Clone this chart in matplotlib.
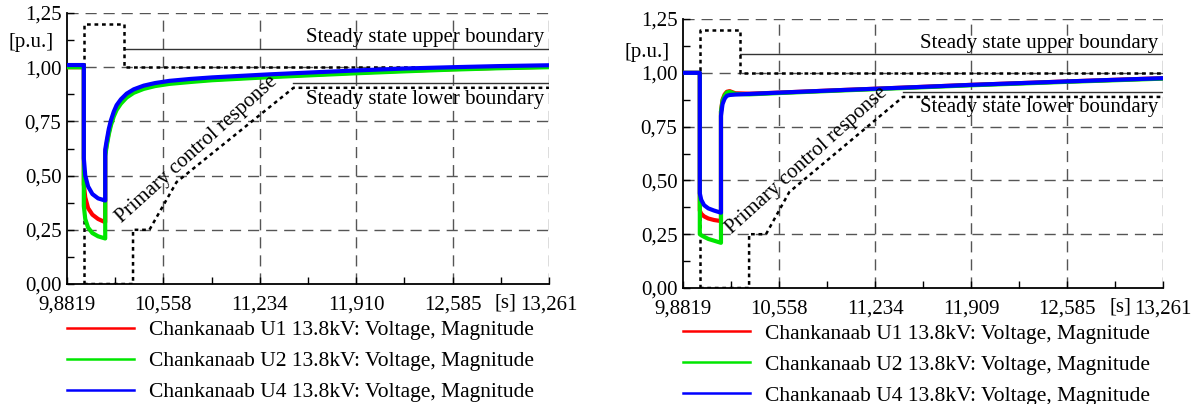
import numpy as np
import matplotlib
matplotlib.use("Agg")
import matplotlib.pyplot as plt
from matplotlib.lines import Line2D
from matplotlib.ticker import FixedLocator

plt.rcParams['font.family'] = ['Liberation Serif', 'DejaVu Serif']
plt.rcParams['font.size'] = 15

# x axis
X_MIN, X_MAX = 9.8819, 13.261
x_ticks = [9.8819, 10.558, 11.234, 11.910, 12.585, 13.261]
x_labels_l = ["9,8819", "10,558", "11,234", "11,910", "12,585", "13,261"]
x_labels_r = ["9,8819", "10,558", "11,234", "11,909", "12,585", "13,261"]
y_ticks = [0.0, 0.25, 0.50, 0.75, 1.00, 1.25]
y_labels = ["0,00", "0,25", "0,50", "0,75", "1,00", "1,25"]

names = ["Chankanaab U1 13.8kV: Voltage, Magnitude",
         "Chankanaab U2 13.8kV: Voltage, Magnitude",
         "Chankanaab U4 13.8kV: Voltage, Magnitude"]
colors = ["#ff0000", "#00e600", "#0000ff"]

# left case
t_l = [9.8819, 10.0, 10.0, 10.01, 10.03, 10.06, 10.10, 10.15, 10.15, 10.16, 10.175, 10.19,
       10.21, 10.23, 10.26, 10.30, 10.35, 10.42, 10.50, 10.60, 10.75, 10.90, 11.10, 11.30,
       11.60, 11.91, 12.25, 12.585, 12.90, 13.261]
u1_l = [1.0, 1.0, 0.46, 0.40, 0.35, 0.32, 0.30, 0.285, 0.60, 0.645, 0.70, 0.742,
        0.783, 0.813, 0.841, 0.868, 0.888, 0.905, 0.917, 0.927, 0.936, 0.943, 0.95, 0.957,
        0.966, 0.975, 0.984, 0.991, 0.997, 1.002]
u2_l = [1.0, 1.0, 0.36, 0.30, 0.26, 0.235, 0.22, 0.21, 0.59, 0.635, 0.69, 0.732,
        0.773, 0.803, 0.832, 0.86, 0.882, 0.90, 0.913, 0.923, 0.932, 0.94, 0.947, 0.954,
        0.963, 0.972, 0.981, 0.989, 0.995, 1.0]
u4_l = [1.01, 1.01, 0.58, 0.50, 0.45, 0.415, 0.395, 0.385, 0.62, 0.66, 0.715, 0.755,
        0.795, 0.825, 0.852, 0.878, 0.898, 0.915, 0.927, 0.937, 0.946, 0.953, 0.96, 0.967,
        0.976, 0.985, 0.994, 1.0, 1.005, 1.009]

up_dot_t_l = [10.0, 10.0, 10.28, 10.28, 13.261]
up_dot_v_l = [0.0, 1.2, 1.2, 1.0, 1.0]
lo_dot_t_l = [10.0, 10.345, 10.345, 10.46, 10.65, 11.47, 13.261]
lo_dot_v_l = [0.0, 0.0, 0.25, 0.25, 0.47, 0.905, 0.905]
up_sol_t_l = [10.28, 13.261]
up_sol_v_l = [1.083, 1.083]
lo_sol_t_l = [11.47, 13.261]
lo_sol_v_l = [0.926, 0.926]

# right case
t_r = [9.8819, 10.0, 10.0, 10.01, 10.03, 10.06, 10.10, 10.149, 10.149, 10.16, 10.175, 10.19,
       10.21, 10.25, 10.35, 10.558, 11.0, 11.234, 11.5, 11.909, 12.25, 12.585, 12.9, 13.261]
u1_r = [1.0, 1.0, 0.36, 0.345, 0.333, 0.323, 0.316, 0.311, 0.82, 0.875, 0.90, 0.912,
        0.915, 0.905, 0.903, 0.908, 0.92, 0.926, 0.933, 0.944, 0.952, 0.96, 0.967, 0.975]
u2_r = [1.0, 1.0, 0.25, 0.245, 0.238, 0.228, 0.22, 0.21, 0.82, 0.87, 0.895, 0.908,
        0.912, 0.902, 0.90, 0.906, 0.918, 0.924, 0.931, 0.942, 0.95, 0.958, 0.965, 0.973]
u4_r = [1.0, 1.0, 0.44, 0.41, 0.385, 0.37, 0.36, 0.35, 0.80, 0.855, 0.88, 0.893,
        0.897, 0.899, 0.902, 0.908, 0.92, 0.926, 0.933, 0.944, 0.952, 0.96, 0.967, 0.975]

up_dot_t_r = [10.0, 10.0, 10.28, 10.28, 13.261]
up_dot_v_r = [0.0, 1.2, 1.2, 1.0, 1.0]
lo_dot_t_r = [10.0, 10.347, 10.347, 10.466, 10.63, 11.43, 13.261]
lo_dot_v_r = [0.0, 0.0, 0.25, 0.25, 0.446, 0.888, 0.888]
up_sol_t_r = [10.28, 13.261]
up_sol_v_r = [1.086, 1.086]
lo_sol_t_r = [11.43, 13.261]
lo_sol_v_r = [0.91, 0.91]


def draw(ax, t, series, up_dot, lo_dot, up_sol, lo_sol, xlabels, txt_pos, up_txt_y, lo_txt_y):
    ax.set_xlim(X_MIN, X_MAX)
    ax.set_ylim(0, 1.25)
    for s in ["top", "right"]:
        ax.spines[s].set_visible(False)
    for s in ["left", "bottom"]:
        ax.spines[s].set_linewidth(1.3)
    ax.set_xticks(x_ticks)
    ax.set_xticklabels(xlabels)
    ax.set_yticks(y_ticks)
    ax.set_yticklabels(y_labels)
    ax.xaxis.set_minor_locator(FixedLocator([(a + b) / 2 for a, b in zip(x_ticks[:-1], x_ticks[1:])]))
    ax.yaxis.set_minor_locator(FixedLocator([v + 0.125 for v in y_ticks[:-1]]))
    ax.tick_params(which="both", direction="in", length=5, width=1.0, pad=4)
    ax.tick_params(axis="x", pad=8)
    for xv in x_ticks[1:]:
        ax.axvline(xv, color="#555555", lw=1.0, ls=(0, (8, 5)), zorder=1)
    for yv in y_ticks[1:]:
        ax.axhline(yv, color="#555555", lw=1.0, ls=(0, (8, 5)), zorder=1)

    ax.plot(*up_sol, color="#333333", lw=1.0, zorder=2)
    ax.plot(*lo_sol, color="#333333", lw=1.0, zorder=2)
    ax.plot(*up_dot, color="black", lw=1.8, ls=(0, (1.5, 1.5)), zorder=2)
    ax.plot(*lo_dot, color="black", lw=1.8, ls=(0, (1.5, 1.5)), zorder=2)

    for vals, c in zip(series, colors):
        ax.plot(t, vals, color=c, lw=3.0, zorder=3, solid_joinstyle="round")

    ax.text(txt_pos[0], txt_pos[1], "Primary control response", rotation=42,
            ha="center", va="center", rotation_mode="anchor", zorder=4)
    ax.text(13.23, up_txt_y, "Steady state upper boundary", ha="right", va="center", zorder=4)
    ax.text(13.23, lo_txt_y, "Steady state lower boundary", ha="right", va="center", zorder=4)

    handles = [Line2D([], [], color=c, lw=1.8) for c in colors]
    ax.legend(handles, names, loc="center left", bbox_to_anchor=(0.0, -0.285),
              frameon=False, handlelength=3.1, handletextpad=0.7, labelspacing=0.5,
              borderaxespad=0, borderpad=0, fontsize=15.5)


fig = plt.figure(figsize=(11.96, 4.04), dpi=100)
ax1 = fig.add_axes([0.0560, 0.2970, 0.4030, 0.6708])
ax2 = fig.add_axes([0.5711, 0.2871, 0.4013, 0.6658])

draw(ax1, t_l, [u1_l, u2_l, u4_l], (up_dot_t_l, up_dot_v_l), (lo_dot_t_l, lo_dot_v_l),
     (up_sol_t_l, up_sol_v_l), (lo_sol_t_l, lo_sol_v_l), x_labels_l, (10.79, 0.62), 1.139, 0.849)
draw(ax2, t_r, [u1_r, u2_r, u4_r], (up_dot_t_r, up_dot_v_r), (lo_dot_t_r, lo_dot_v_r),
     (up_sol_t_r, up_sol_v_r), (lo_sol_t_r, lo_sol_v_r), x_labels_r, (10.75, 0.59), 1.138, 0.841)

fig.text(31 / 1196, 1 - 43 / 404, "[p.u.]", ha="center", va="center")
fig.text(647 / 1196, 1 - 52 / 404, "[p.u.]", ha="center", va="center")
fig.text(505 / 1196, 1 - 303 / 404, "[s]", ha="center", va="center")
fig.text(1120 / 1196, 1 - 307 / 404, "[s]", ha="center", va="center")

fig.savefig("out.png", dpi=100)
